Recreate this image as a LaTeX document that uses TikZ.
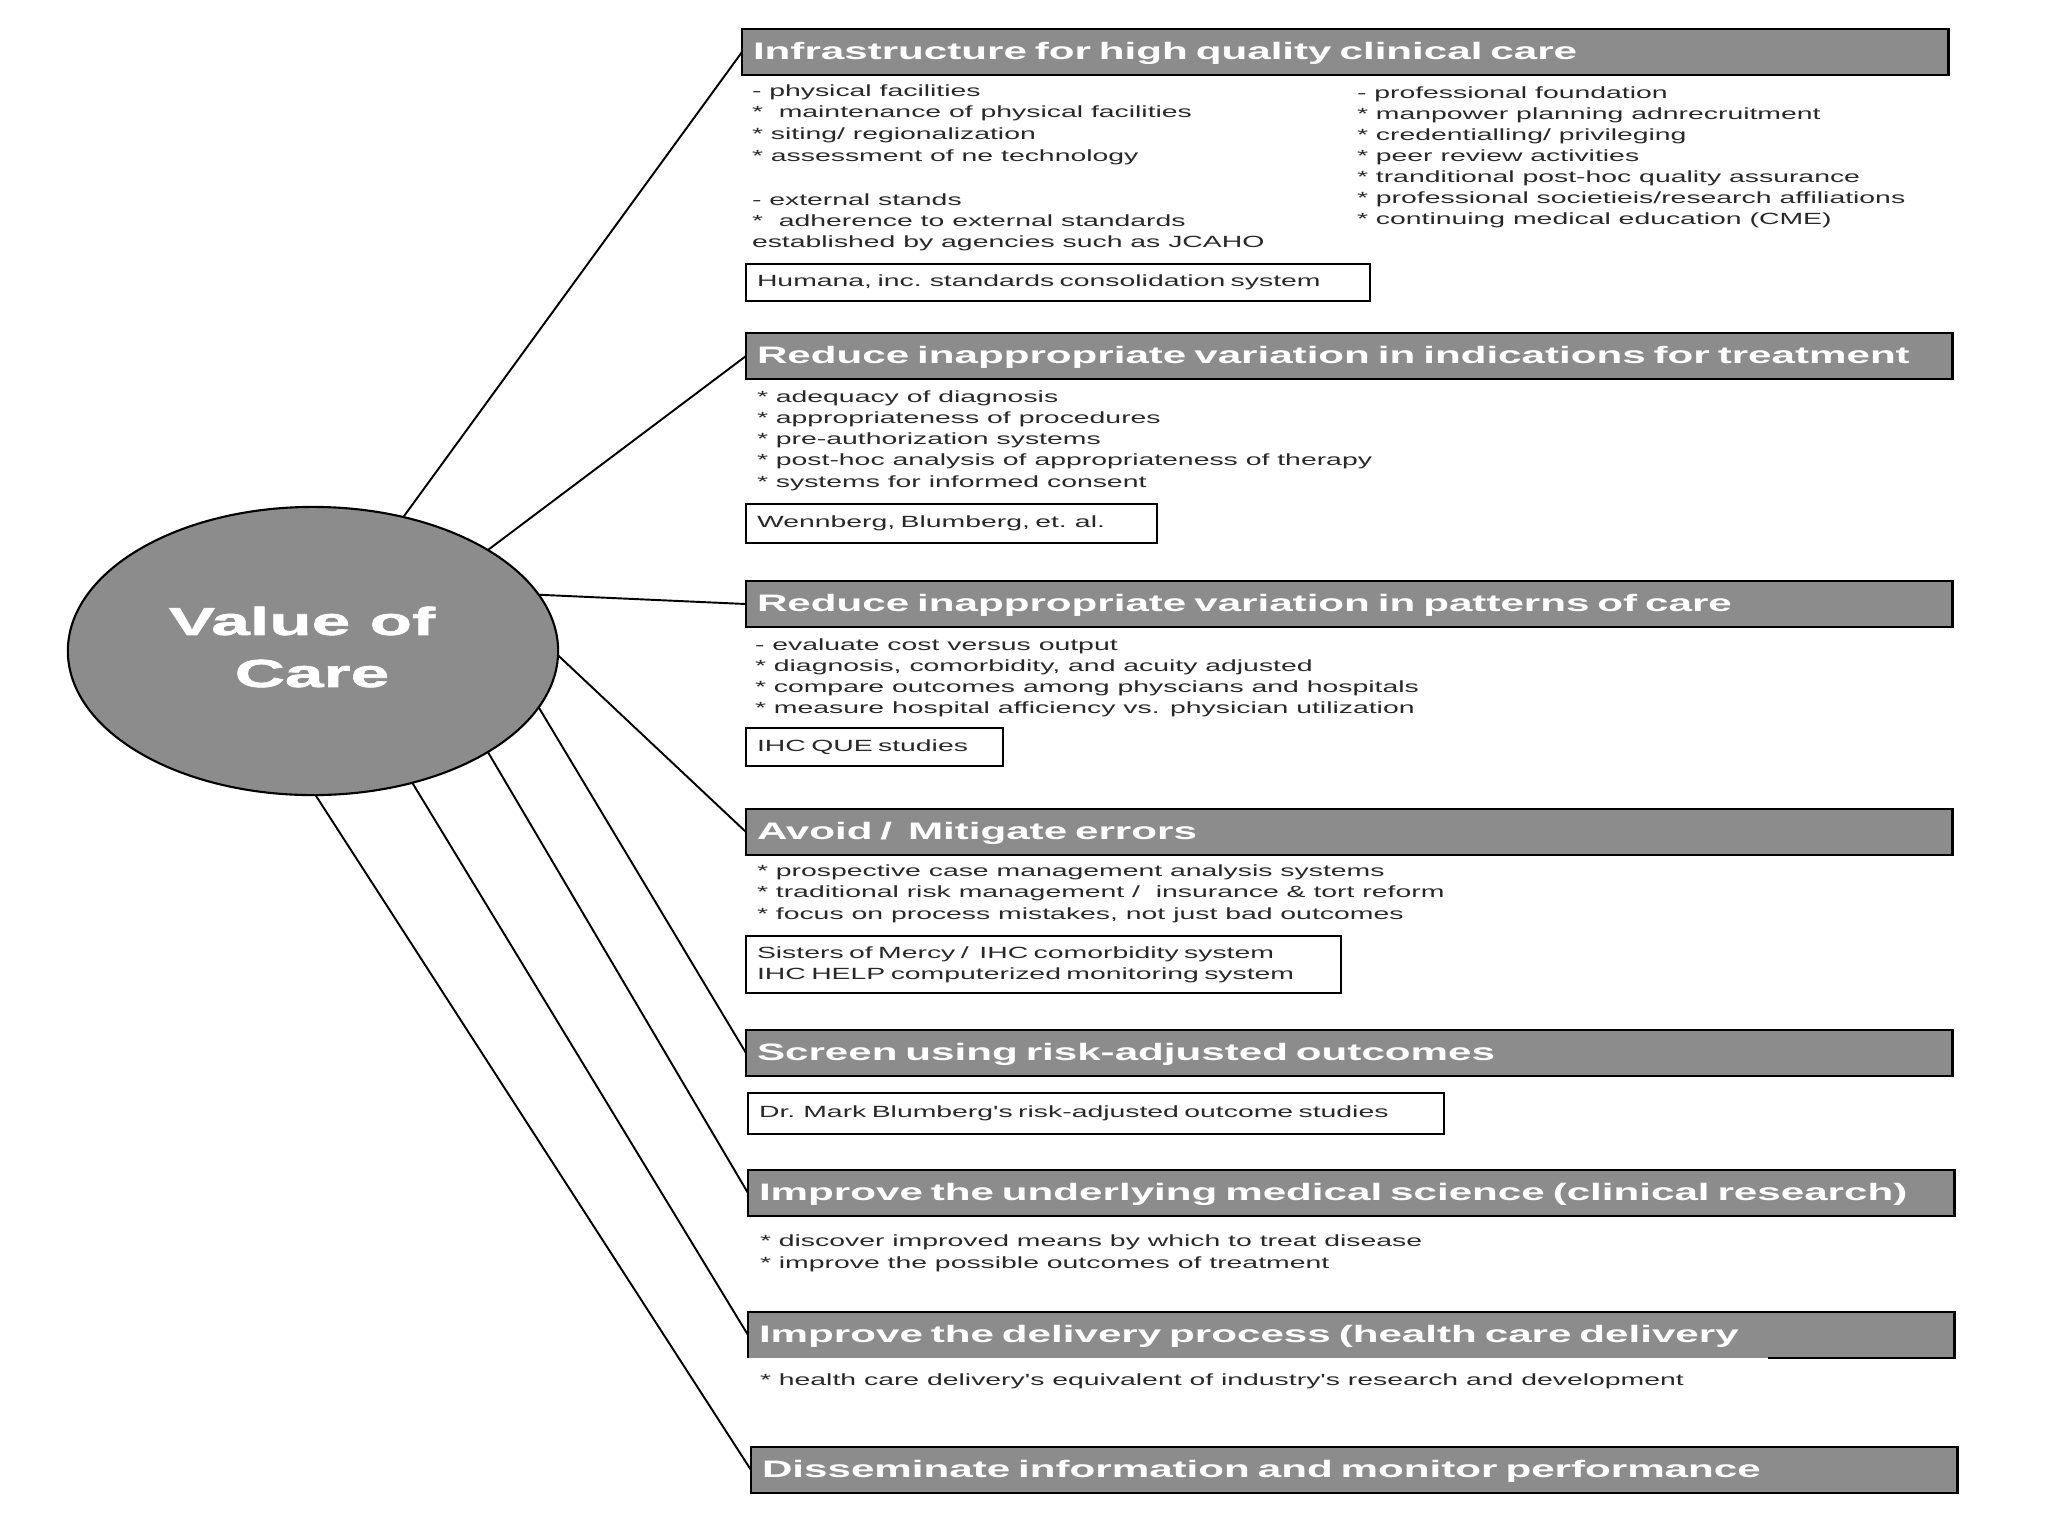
\documentclass[tikz,border=0pt]{standalone}
\usepackage{fontspec}
\usetikzlibrary{shapes.geometric,calc}
\newfontfamily\bodyfnt[FakeStretch=1.75]{Liberation Sans}
\newfontfamily\hdrfnt[FakeStretch=1.77]{Liberation Sans Bold}
\newfontfamily\ctrfnt[FakeStretch=1.78,FakeBold=1.6]{Liberation Sans Bold}
\definecolor{boxgray}{RGB}{140,140,140}
\definecolor{txtgray}{RGB}{40,40,40}
\begin{document}
\begin{tikzpicture}[x=0.01cm,y=-0.01cm,
  hdr/.style={draw=black, line width=0.7pt, fill=boxgray, anchor=north west,
    text width=11.84cm, inner xsep=0.11cm, inner ysep=0pt, minimum height=0.46cm,
    outer sep=0pt, align=left, text=white,
    font=\hdrfnt\fontsize{6.77pt}{8pt}\selectfont, text height=0.17cm, text depth=0.03cm},
  bl/.style={anchor=base west, inner sep=0pt, outer sep=0pt, text=txtgray,
    font=\bodyfnt\fontsize{4.61pt}{6.17pt}\selectfont},
  refbox/.style={draw=black, line width=0.55pt, anchor=north west, inner xsep=0.11cm,
    inner ysep=0pt, outer sep=0pt, align=left, text=txtgray,
    font=\bodyfnt\fontsize{4.61pt}{6.0pt}\selectfont},
  conn/.style={draw=black, line width=0.55pt}
]
\useasboundingbox (0,0) rectangle (2048,1536);

% central ellipse
\node[ellipse, draw=black, line width=0.6pt, fill=boxgray, minimum width=4.9cm,
  minimum height=2.88cm, inner sep=0pt, outer sep=0pt] (v) at (313,651) {};
\node[inner sep=0pt, align=center, text=white,
  font=\ctrfnt\fontsize{11.1pt}{14.8pt}\selectfont] (vt) at (302,647) {Value of\\\hspace*{0.2cm}Care};

% headers
\node[hdr] (h1) at (742,29) {Infrastructure for high quality clinical care};
\node[hdr] (h2) at (746,333) {Reduce inappropriate variation in indications for treatment};
\node[hdr] (h3) at (746,581) {Reduce inappropriate variation in patterns of care};
\node[hdr] (h4) at (746,809) {Avoid /\ \ Mitigate errors};
\node[hdr] (h5) at (746,1030) {Screen using risk-adjusted outcomes};
\node[hdr] (h6) at (748,1170) {Improve the underlying medical science (clinical research)};
\node[hdr, draw=none] (h7) at (748,1312) {Improve the delivery process (health care delivery};
\draw[line width=0.7pt] ($(h7.south west)+(1020,0)$) -- (h7.south east) -- (h7.north east)
  -- (h7.north west) -- (h7.south west);
\node[hdr] (h8) at (751,1447) {Disseminate information and monitor performance};

% connectors
\draw[conn] (v.56.8) -- (h1.west);
\draw[conn] (v.30.5) -- (h2.west);
\draw[conn] (v.14.3) -- (h3.west);
\draw[conn] (v.-1) -- (h4.west);
\draw[conn] (v.-14.7) -- (h5.west);
\draw[conn] (v.-30.4) -- (h6.west);
\draw[conn] (v.-53.7) -- (h7.west);
\draw[conn] (v.-89) -- (h8.west);

% group 1 left
\foreach \t [count=\i] in {{- physical facilities},{*\ \ maintenance of physical facilities},
  {* siting/ regionalization},{* assessment of ne technology}}
  \node[bl] (a\i) at (752,{96+21.7*(\i-1)}) {\t};
\foreach \t [count=\i] in {{- external stands},{*\ \ adherence to external standards},
  {established by agencies such as JCAHO}}
  \node[bl] (b\i) at (752,{205+21.2*(\i-1)}) {\t};
% group 1 right
\foreach \t [count=\i] in {{- professional foundation},{* manpower planning adnrecruitment},
  {* credentialling/ privileging},{* peer review activities},
  {* tranditional post-hoc quality assurance},
  {* professional societieis/research affiliations},
  {* continuing medical education (CME)}}
  \node[bl] (c\i) at (1357,{98+21*(\i-1)}) {\t};
\node[refbox, text width=6.02cm, minimum height=0.37cm] (r1) at (746,264)
  {Humana, inc. standards consolidation system};

% group 2
\foreach \t [count=\i] in {{* adequacy of diagnosis},{* appropriateness of procedures},
  {* pre-authorization systems},{* post-hoc analysis of appropriateness of therapy},
  {* systems for informed consent}}
  \node[bl] (d\i) at (757,{402+21.3*(\i-1)}) {\t};
\node[refbox, text width=3.89cm, minimum height=0.39cm] (r2) at (746,504)
  {Wennberg, Blumberg, et. al.};

% group 3
\foreach \t [count=\i] in {{- evaluate cost versus output},
  {* diagnosis, comorbidity, and acuity adjusted},
  {* compare outcomes among physcians and hospitals},
  {* measure hospital afficiency vs. physician utilization}}
  \node[bl] (e\i) at (755,{650+21*(\i-1)}) {\t};
\node[refbox, text width=2.35cm, minimum height=0.38cm] (r3) at (746,728)
  {IHC QUE studies};

% group 4
\foreach \t [count=\i] in {{* prospective case management analysis systems},
  {* traditional risk management /\ \ insurance \& tort reform},
  {* focus on process mistakes, not just bad outcomes}}
  \node[bl] (f\i) at (757,{876+21.5*(\i-1)}) {\t};
\node[refbox, text width=5.73cm, minimum height=0.57cm] (r4) at (746,936)
  {Sisters of Mercy /\ \ IHC comorbidity system\\IHC HELP computerized monitoring system};

% group 5
\node[refbox, text width=6.74cm, minimum height=0.41cm] (r5) at (748,1093)
  {Dr. Mark Blumberg's risk-adjusted outcome studies};

% group 6
\foreach \t [count=\i] in {{* discover improved means by which to treat disease},
  {* improve the possible outcomes of treatment}}
  \node[bl] (g\i) at (760,{1246+22*(\i-1)}) {\t};

% group 7
\node[bl] (k1) at (760,1385) {* health care delivery's equivalent of industry's research and development};
\end{tikzpicture}
\end{document}
